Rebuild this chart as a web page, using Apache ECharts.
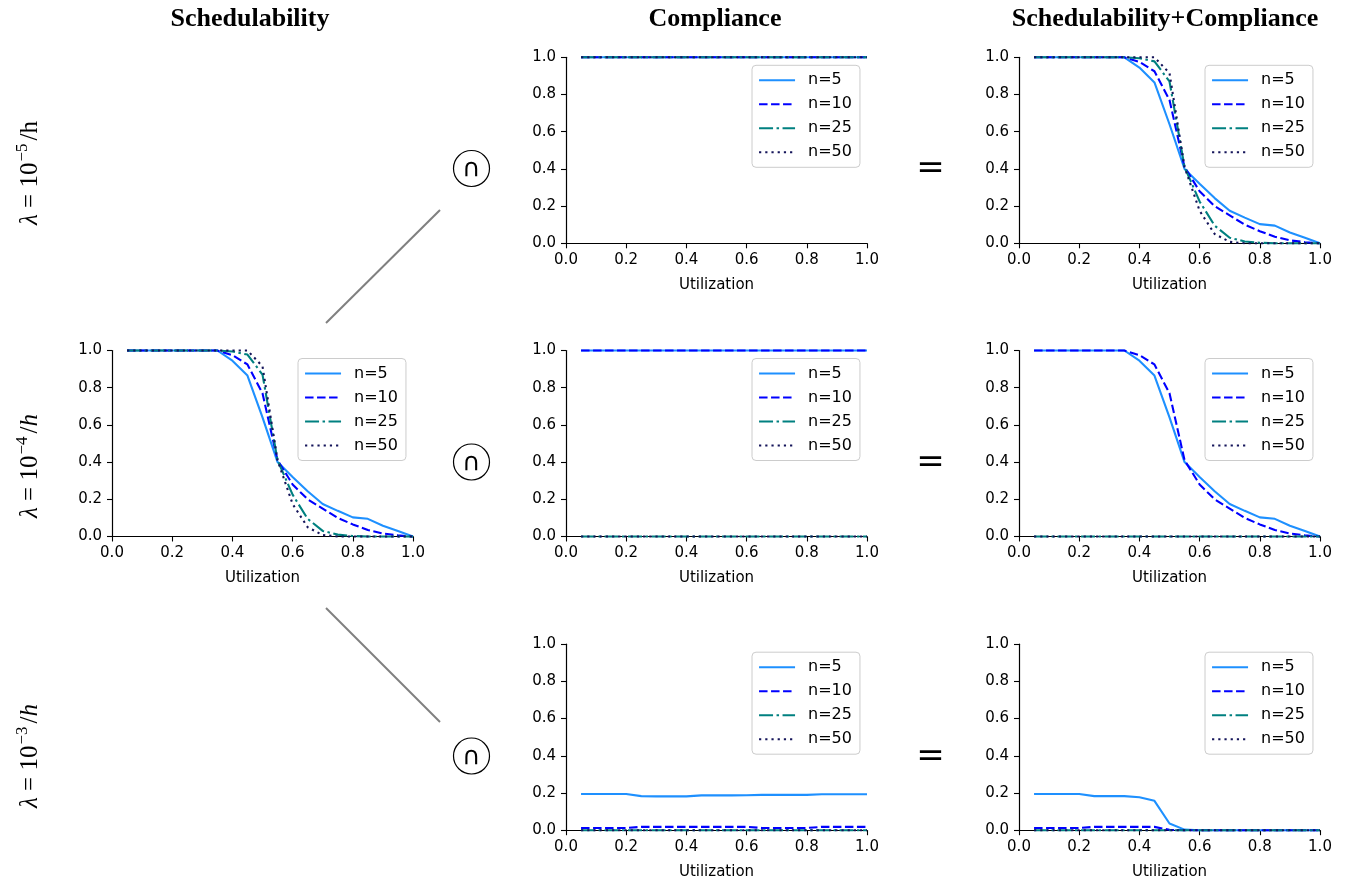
<!DOCTYPE html>
<html>
<head>
<meta charset="utf-8">
<script src="https://cdn.jsdelivr.net/npm/echarts@6/dist/echarts.min.js"></script>
<style>
html,body{margin:0;padding:0;background:#fff;}
#chart{width:1347px;height:884px;}
</style>
</head>
<body>
<div id="chart"></div>
<script>
// ---------- data ----------
const utilization = [0.05,0.10,0.15,0.20,0.25,0.30,0.35,0.40,0.45,0.50,0.55,0.60,0.65,0.70,0.75,0.80,0.85,0.90,0.95,1.00];
const seriesNames = ['n=5','n=10','n=25','n=50'];
const xTicks = [0.0,0.2,0.4,0.6,0.8,1.0];
const yTicks = [0.0,0.2,0.4,0.6,0.8,1.0];
const columnTitles = ['Schedulability','Compliance','Schedulability+Compliance'];

// Schedulability (lambda independent)
const sched5  = [1,1,1,1,1,1,1,0.945,0.865,0.64,0.40,0.32,0.243,0.175,0.138,0.103,0.095,0.058,0.03,0.0];
const sched10 = [1,1,1,1,1,1,1,0.975,0.925,0.77,0.41,0.28,0.20,0.15,0.10,0.065,0.035,0.016,0.006,0.0];
const sched25 = [1,1,1,1,1,1,1,0.995,0.978,0.87,0.41,0.225,0.095,0.03,0.01,0.003,0,0,0,0];
const sched50 = [1,1,1,1,1,1,1,1,1,0.915,0.41,0.175,0.05,0.008,0,0,0,0,0,0];

// Compliance, lambda = 1e-5
const compA5  = [1,1,1,1,1,1,1,1,1,1,1,1,1,1,1,1,1,1,1,1];
const compA10 = [1,1,1,1,1,1,1,1,1,1,1,1,1,1,1,1,1,1,1,1];
const compA25 = [1,1,1,1,1,1,1,1,1,1,1,1,1,1,1,1,1,1,1,1];
const compA50 = [1,1,1,1,1,1,1,1,1,1,1,1,1,1,1,1,1,1,1,1];
// Compliance, lambda = 1e-4
const compB5  = [1,1,1,1,1,1,1,1,1,1,1,1,1,1,1,1,1,1,1,1];
const compB10 = [1,1,1,1,1,1,1,1,1,1,1,1,1,1,1,1,1,1,1,1];
const compB25 = [0,0,0,0,0,0,0,0,0,0,0,0,0,0,0,0,0,0,0,0];
const compB50 = [0,0,0,0,0,0,0,0,0,0,0,0,0,0,0,0,0,0,0,0];
// Compliance, lambda = 1e-3
const compC5  = [0.195,0.195,0.195,0.195,0.183,0.182,0.182,0.182,0.187,0.187,0.187,0.188,0.19,0.19,0.19,0.19,0.193,0.193,0.193,0.193];
const compC10 = [0.012,0.012,0.012,0.012,0.018,0.018,0.018,0.018,0.018,0.018,0.018,0.018,0.012,0.012,0.012,0.012,0.018,0.018,0.018,0.018];
const compC25 = [0,0,0,0,0,0,0,0,0,0,0,0,0,0,0,0,0,0,0,0];
const compC50 = [0,0,0,0,0,0,0,0,0,0,0,0,0,0,0,0,0,0,0,0];

// Schedulability+Compliance, lambda = 1e-5
const bothA5  = [1,1,1,1,1,1,1,0.945,0.865,0.64,0.40,0.32,0.243,0.175,0.138,0.103,0.095,0.058,0.03,0.0];
const bothA10 = [1,1,1,1,1,1,1,0.975,0.925,0.77,0.41,0.28,0.20,0.15,0.10,0.065,0.035,0.016,0.006,0.0];
const bothA25 = [1,1,1,1,1,1,1,0.995,0.978,0.87,0.41,0.225,0.095,0.03,0.01,0.003,0,0,0,0];
const bothA50 = [1,1,1,1,1,1,1,1,1,0.915,0.41,0.175,0.05,0.008,0,0,0,0,0,0];
// lambda = 1e-4
const bothB5  = [1,1,1,1,1,1,1,0.945,0.865,0.64,0.40,0.32,0.243,0.175,0.138,0.103,0.095,0.058,0.03,0.0];
const bothB10 = [1,1,1,1,1,1,1,0.975,0.925,0.77,0.41,0.28,0.20,0.15,0.10,0.065,0.035,0.016,0.006,0.0];
const bothB25 = [0,0,0,0,0,0,0,0,0,0,0,0,0,0,0,0,0,0,0,0];
const bothB50 = [0,0,0,0,0,0,0,0,0,0,0,0,0,0,0,0,0,0,0,0];
// lambda = 1e-3
const bothC5  = [0.195,0.195,0.195,0.195,0.183,0.183,0.183,0.177,0.158,0.036,0.003,0,0,0,0,0,0,0,0,0];
const bothC10 = [0.012,0.012,0.012,0.012,0.018,0.018,0.018,0.018,0.018,0.002,0,0,0,0,0,0,0,0,0,0];
const bothC25 = [0,0,0,0,0,0,0,0,0,0,0,0,0,0,0,0,0,0,0,0];
const bothC50 = [0,0,0,0,0,0,0,0,0,0,0,0,0,0,0,0,0,0,0,0];

// ---------- styles ----------
const colors = ['#1e90ff','#0000ff','#008080','#14145a'];
const dashes = ['solid',[8.5,3.5],[14,3.5,2.5,3.5],[2.2,4]];

// panels: grid placement + data
const GW = 301, GH = 186;
const colLeft = [112, 566, 1019];
const rowTop = [57.3, 350.5, 644.2];
const panels = [
  {col:1,row:0,data:[compA5,compA10,compA25,compA50]},
  {col:2,row:0,data:[bothA5,bothA10,bothA25,bothA50]},
  {col:0,row:1,data:[sched5,sched10,sched25,sched50]},
  {col:1,row:1,data:[compB5,compB10,compB25,compB50]},
  {col:2,row:1,data:[bothB5,bothB10,bothB25,bothB50]},
  {col:1,row:2,data:[compC5,compC10,compC25,compC50]},
  {col:2,row:2,data:[bothC5,bothC10,bothC25,bothC50]}
];

const FONT = 'DejaVu Sans';
const grid = [], xAxis = [], yAxis = [], series = [], legend = [];
panels.forEach((p, i) => {
  const left = colLeft[p.col], top = rowTop[p.row];
  grid.push({left: left, top: top, width: GW, height: GH, containLabel: false});
  const axCommon = {
    type: 'value', min: 0, max: 1, interval: 0.2, gridIndex: i,
    axisLine: {show: true, lineStyle: {color: '#000', width: 1.2}},
    axisTick: {show: true, length: 5, lineStyle: {color: '#000', width: 1.1}},
    splitLine: {show: false},
    axisLabel: {color: '#000', fontFamily: FONT, fontSize: 15, formatter: v => v.toFixed(1)}
  };
  xAxis.push(Object.assign({}, axCommon, {
    position: 'bottom',
    axisLabel: Object.assign({}, axCommon.axisLabel, {margin: 9}),
    name: 'Utilization', nameLocation: 'middle', nameGap: 34,
    nameTextStyle: {color: '#000', fontFamily: FONT, fontSize: 15}
  }));
  yAxis.push(Object.assign({}, axCommon, {
    position: 'left',
    axisLabel: Object.assign({}, axCommon.axisLabel, {margin: 10})
  }));
  seriesNames.forEach((nm, k) => {
    series.push({
      type: 'line', name: nm, xAxisIndex: i, yAxisIndex: i,
      data: utilization.map((u, j) => [u, p.data[k][j]]),
      symbol: 'none', showSymbol: false, clip: false, animation: false,
      lineStyle: {color: colors[k], width: 2.1, type: dashes[k]},
      itemStyle: {color: colors[k]},
      z: 2 + k
    });
  });
  legend.push({
    orient: 'vertical', left: left + 186, top: top + 8,
    data: seriesNames, selectedMode: false,
    itemWidth: 36, itemHeight: 14, itemGap: 8,
    padding: [7, 8, 7, 6],
    borderColor: '#cccccc', borderWidth: 1, borderRadius: 4,
    backgroundColor: 'rgba(255,255,255,0.85)',
    itemStyle: {opacity: 0},
    lineStyle: {width: 2.1},
    textStyle: {color: '#000', fontFamily: FONT, fontSize: 16, padding: [0, 0, 0, 8]}
  });
});

// ---------- decorations ----------
const SERIF = 'Liberation Serif';
const graphic = [];
const titleX = [250, 715, 1165];
columnTitles.forEach((t, i) => {
  graphic.push({type: 'text', x: titleX[i], y: 19, style: {
    text: t, fill: '#000', font: 'bold 26px "Liberation Serif"', align: 'center', verticalAlign: 'middle'}});
});
const rowLabelY = [173, 466, 756];
const rowExp = ['−5', '−4', '−3'];
const rowH = ['u', 'i', 'i'];
rowLabelY.forEach((y, i) => {
  graphic.push({type: 'text', x: 30, y: y, rotation: Math.PI / 2, style: {
    text: '{i|λ}{n| = 10}{s|' + rowExp[i] + '}{n|/}{' + rowH[i] + '|h}',
    align: 'center', verticalAlign: 'middle', fill: '#000',
    rich: {
      n: {fontFamily: SERIF, fontSize: 25, lineHeight: 32, verticalAlign: 'middle'},
      i: {fontFamily: SERIF, fontSize: 25, fontStyle: 'italic', lineHeight: 32, verticalAlign: 'middle'},
      u: {fontFamily: SERIF, fontSize: 25, lineHeight: 32, verticalAlign: 'middle'},
      s: {fontFamily: SERIF, fontSize: 17, verticalAlign: 'top', padding: [0, 3, 0, 1]}
    }
  }});
});
// connector lines
graphic.push({type: 'line', shape: {x1: 326, y1: 323, x2: 440, y2: 210}, style: {stroke: '#808080', lineWidth: 2}});
graphic.push({type: 'line', shape: {x1: 326, y1: 608, x2: 440, y2: 722}, style: {stroke: '#808080', lineWidth: 2}});
// intersection and equal symbols
const symY = [168.5, 462, 756];
symY.forEach(y => {
  graphic.push({type: 'circle', shape: {cx: 471.5, cy: y, r: 18}, style: {fill: '#fff', stroke: '#000', lineWidth: 1.2}});
  graphic.push({type: 'text', x: 471.5, y: y + 1, style: {text: '∩', fill: '#000', font: '25px "DejaVu Sans"', align: 'center', verticalAlign: 'middle'}});
  graphic.push({type: 'text', x: 930.5, y: y + 1, style: {text: '=', fill: '#000', font: '34px "DejaVu Sans"', align: 'center', verticalAlign: 'middle'}});
});

const chart = echarts.init(document.getElementById('chart'), null, {renderer: 'canvas'});
chart.setOption({
  animation: false,
  backgroundColor: '#ffffff',
  grid: grid, xAxis: xAxis, yAxis: yAxis, series: series, legend: legend,
  graphic: graphic
});
</script>
</body>
</html>
